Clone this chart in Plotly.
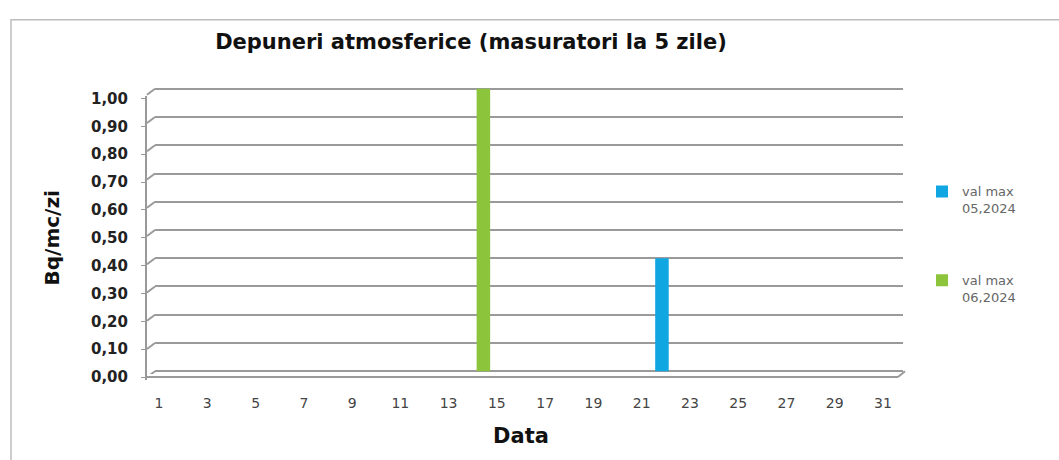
import plotly.graph_objects as go

W, H = 1059, 460

days = list(range(1, 32))
tick_days = list(range(1, 32, 2))
y_ticks = [round(i * 0.1, 1) for i in range(11)]

series_names = ["val max<br>05,2024", "val max<br>06,2024"]
series_days = [[22], [14]]
series_values = [[0.40], [1.00]]
series_colors = ["#10a6e2", "#8cc43c"]
# depth shift of the 3D columns (front row left, back row right)
series_offsets = [-0.77, -0.17]
bar_width = 0.56

FONT = "DejaVu Sans, Liberation Sans, Arial, sans-serif"


def px_x(p):
    return p / W


def px_y(p):
    return 1 - p / H


# back wall: x 155..903, y 0 -> 375, 1 -> 85
back_l, back_r = 155, 903
# front axis: x 147.., y 0 -> 381, 1 -> 95
front_l = 147
yr = [-0.01, 1.01]


def y_domain(zero_px, one_px):
    scale = zero_px - one_px
    lo = zero_px - yr[0] * scale
    hi = zero_px - yr[1] * scale
    return [px_y(lo), px_y(hi)]


fig = go.Figure()

for name, xs, vals, col, off in zip(series_names, series_days, series_values, series_colors, series_offsets):
    fig.add_trace(
        go.Bar(
            x=xs,
            y=vals,
            name=name,
            width=bar_width,
            offset=off,
            marker=dict(color=col, line=dict(width=0)),
            legendgroup=name,
        )
    )

# invisible trace so the front axes are drawn
fig.add_trace(
    go.Scatter(x=[days[0]], y=[0], xaxis="x2", yaxis="y2", mode="markers",
               marker=dict(opacity=0), showlegend=False, hoverinfo="skip")
)

fig.update_layout(
    width=W,
    height=H,
    margin=dict(l=0, r=0, t=0, b=0),
    paper_bgcolor="white",
    plot_bgcolor="rgba(0,0,0,0)",
    separators=",.",
    font=dict(family=FONT, color="#222"),
    barmode="overlay",
    title=dict(
        text="<b>Depuneri atmosferice (masuratori la 5 zile)</b>",
        x=471 / W, xanchor="center",
        y=px_y(42), yanchor="middle",
        font=dict(size=21, color="#111"),
    ),
    xaxis=dict(
        domain=[px_x(back_l), px_x(back_r)],
        range=[0.5, 31.5],
        showticklabels=False, showgrid=False, zeroline=False, showline=False,
        anchor="y",
    ),
    yaxis=dict(
        domain=y_domain(375, 85),
        range=yr,
        tickvals=y_ticks,
        showticklabels=False,
        showgrid=True, gridcolor="#9a9a9a", gridwidth=2,
        zeroline=False, showline=False,
        anchor="x",
    ),
    xaxis2=dict(
        domain=[px_x(front_l), px_x(front_l + (back_r - back_l))],
        range=[0.5, 31.5],
        tickvals=tick_days,
        ticktext=[str(d) for d in tick_days],
        tickfont=dict(size=14, color="#444"),
        ticks="", showgrid=False, zeroline=False, showline=False,
        ticklabelstandoff=13,
        title=dict(text="<b>Data</b>", font=dict(size=21, color="#111"), standoff=18),
        anchor="y2",
    ),
    yaxis2=dict(
        domain=y_domain(381, 95),
        range=yr,
        tickvals=y_ticks,
        tickformat=".2f",
        tickfont=dict(size=15, color="#222", weight="bold"),
        ticks="outside", ticklen=4, tickcolor="#999",
        showgrid=False, zeroline=False,
        showline=True, linecolor="#999", linewidth=2,
        ticklabelstandoff=10,
        title=dict(text="<b>Bq/mc/zi</b>", font=dict(size=20, color="#111"), standoff=26),
        anchor="x2",
    ),
    legend=dict(
        x=px_x(922), xanchor="left",
        y=px_y(175), yanchor="top",
        font=dict(size=13, color="#666"),
        tracegroupgap=52,
        itemwidth=30,
        valign="top",
        bgcolor="rgba(0,0,0,0)",
    ),
    showlegend=True,
)

# left slanted ends of the back-wall gridlines (3D wall)
for v in y_ticks:
    fig.add_shape(
        type="line", xref="paper", yref="y", ysizemode="pixel", yanchor=v,
        x0=px_x(front_l), x1=px_x(back_l), y0=-6, y1=0,
        line=dict(color="#9a9a9a", width=2),
    )

# floor front edge and right corner
fig.add_shape(type="line", xref="paper", yref="paper",
              x0=px_x(front_l), x1=px_x(898), y0=px_y(381), y1=px_y(381),
              line=dict(color="#9a9a9a", width=2))
fig.add_shape(type="line", xref="paper", yref="paper",
              x0=px_x(898), x1=px_x(back_r + 2), y0=px_y(381), y1=px_y(375),
              line=dict(color="#9a9a9a", width=2))

# chart area border
fig.add_shape(type="rect", xref="paper", yref="paper",
              x0=px_x(11), x1=px_x(W + 10), y0=px_y(H + 10), y1=px_y(14),
              line=dict(color="#bdbdbd", width=1.5), layer="below")

fig.write_html(
    "out.html",
    config={"displayModeBar": False},
    post_script="document.body.style.margin='0';",
)
